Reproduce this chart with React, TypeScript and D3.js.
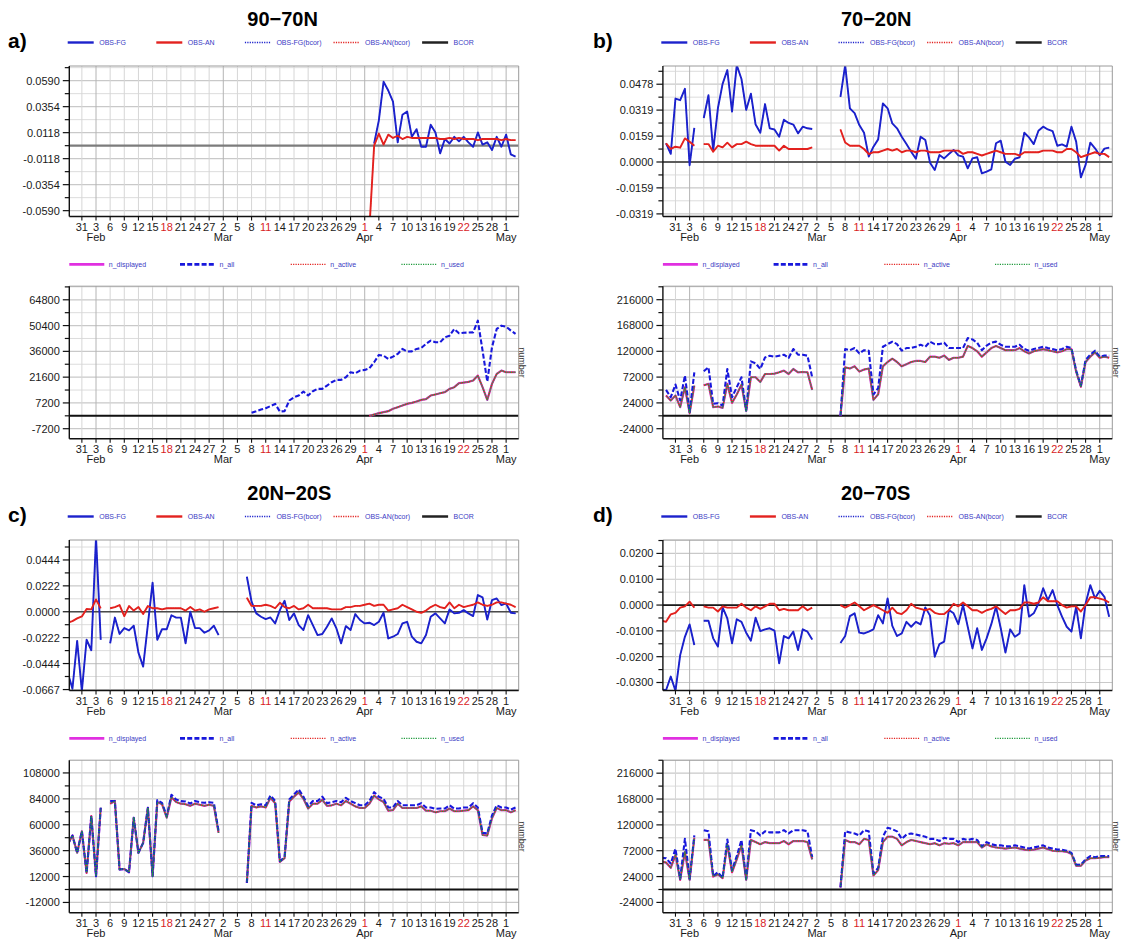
import React from 'react';
import * as d3 from 'd3';

type Val = number | null;
const _ = null;

// ---------- time axis ----------
const X_RANGE = ['2021-01-28T08:00:00Z', '2021-05-03T16:00:00Z'];
const TICK_FIRST = '2021-01-31';
const TICK_LAST = '2021-05-01';
const TICK_STEP_DAYS = 3;
const RED_TICK_DAYS = ['2021-02-18', '2021-03-11', '2021-04-01', '2021-04-22'];

// ---------- 90-70N ----------
const A_TOP_DOMAIN = [-0.0643, 0.0723];
const A_TOP_TICKS = [0.059, 0.0354, 0.0118, -0.0118, -0.0354, -0.059];
const A_BOT_DOMAIN = [-12780, 72390];
const A_BOT_TICKS = [64800, 50400, 36000, 21600, 7200, -7200];

const A_FG_START = '2021-04-03';
const A_FG: Val[] = [
  0.002, 0.023, 0.058, 0.05, 0.04, 0.003, 0.028, 0.031, 0.008, 0.015,
  -0.001, -0.001, 0.019, 0.012, -0.007, 0.006, 0.002, 0.008, 0.004, 0.008,
  0.003, -0.001, 0.012, 0.001, 0.003, -0.004, 0.008, -0.001,
  0.01, -0.008, -0.01,
];
const A_AN_START = '2021-04-02';
const A_AN: Val[] = [
  -0.075, 0.0, 0.011, 0.001, 0.01, 0.007, 0.009, 0.006, 0.008, 0.007,
  0.007, 0.007, 0.007, 0.007, 0.007, 0.006, 0.006, 0.007, 0.006, 0.007,
  0.006, 0.006, 0.006, 0.005, 0.006, 0.006, 0.006, 0.006, 0.005,
  0.006, 0.005, 0.005,
];
const A_ALL_START = '2021-03-08';
const A_ALL: Val[] = [
  1670, 2600, 3530, 4270, 5420, 6690, 2420, 2600, 8550, 10400, 11330, 13560,
  11330, 13750, 15050, 15050, 16900, 18770, 20070, 20070, 21550, 24340, 23780, 25270,
  25640, 26570, 29920, 34000, 33600, 31770, 33070, 34560, 37350, 35860,
  36000, 37350, 37900, 40130, 41990, 41060, 41060, 43850, 44780, 48500,
  46080, 46400, 46500, 46600, 53140, 36420, 19140, 38280, 48500, 50350,
  49800, 47570, 45710,
];
const A_DISP_START = '2021-04-02';
const A_DISP: Val[] = [
  0, 740, 1490, 2040, 2600, 3900, 4830, 5760, 6690, 7250,
  7990, 8920, 9290, 11330, 11890, 12630, 13190, 15050, 15980, 18210,
  18580, 18950, 19700, 22480, 15980, 8920, 17840, 23410, 25270,
  24340, 24340, 24340,
];

// ---------- 70-20N ----------
const B_TOP_DOMAIN = [-0.0335, 0.059];
const B_TOP_TICKS = [0.0478, 0.0319, 0.0159, 0.0, -0.0159, -0.0319];
const B_BOT_DOMAIN = [-42600, 241100];
const B_BOT_TICKS = [216000, 168000, 120000, 72000, 24000, -24000];

const B_START = '2021-01-29';
const B_FG: Val[] = [
  0.0115, 0.005, 0.039, 0.038, 0.045, -0.002, 0.021,
  _,
  0.027, 0.041, 0.007, 0.033, 0.048, 0.0565, 0.031, 0.0595, 0.051, 0.032, 0.042, 0.023,
  0.018, 0.0356, 0.0207, 0.02, 0.0155, 0.026, 0.024, 0.023, 0.0176, 0.0217, 0.0207, 0.0203,
  _, _, _, _, _,
  0.04, 0.0595, 0.033, 0.03, 0.0227, 0.018, 0.0033, 0.0094, 0.0139, 0.036, 0.033, 0.0237,
  0.0207, 0.0155, 0.011, 0.0063, 0.002, 0.0155, 0.0135, -0.0004, -0.0049, 0.0043, 0.0022,
  0.0049, 0.0074,
  0.0041, 0.0033, -0.0039, 0.0022, 0.0029, -0.007, -0.0059, -0.0045, 0.0115, 0.0131,
  0.0002, -0.0018, 0.002, 0.0029, 0.018, 0.0151, 0.011, 0.0192, 0.0217, 0.02,
  0.019, 0.01, 0.0108, 0.0094, 0.0217, 0.0125, -0.0094, -0.0018, 0.0119, 0.0084,
  0.0041, 0.0082, 0.0088,
];
const B_AN: Val[] = [
  0.0115, 0.008, 0.0094, 0.0088, 0.0145, 0.0125, 0.01,
  _,
  0.011, 0.011, 0.0063, 0.01, 0.009, 0.0119, 0.009, 0.011, 0.011, 0.0125, 0.011, 0.01,
  0.01, 0.01, 0.01, 0.01, 0.007, 0.01, 0.008, 0.008, 0.008, 0.008, 0.008, 0.009,
  _, _, _, _, _,
  0.02, 0.012, 0.01, 0.01, 0.01, 0.008, 0.0049, 0.006, 0.006, 0.007, 0.008, 0.007,
  0.008, 0.006, 0.007, 0.007, 0.006, 0.007, 0.007, 0.006, 0.006, 0.006, 0.007,
  0.007, 0.007,
  0.007, 0.005, 0.006, 0.006, 0.005, 0.004, 0.005, 0.006, 0.007, 0.006,
  0.005, 0.005, 0.005, 0.004, 0.006, 0.006, 0.006, 0.006, 0.007, 0.007,
  0.007, 0.006, 0.006, 0.008, 0.008, 0.006, 0.003, 0.004, 0.005, 0.006,
  0.005, 0.005, 0.003,
];
const B_ALL: Val[] = [
  48200, 34600, 58100, 28400, 74800, 6800, 80900,
  _,
  82800, 90200, 22240, 23500, 19150, 87100, 34600, 53100, 71670, 9900, 101300, 97600,
  87100, 108700, 111800, 110000, 111800, 113700, 107500, 124200, 113700, 113700, 111800, 71700,
  _, _, _, _, _,
  0, 124200, 122000, 126000, 116100, 122000, 121100, 39540, 51300, 128500, 133400, 137800,
  133400, 121100, 126000, 126000, 128500, 132200, 128500, 137800, 133400, 133400, 135900,
  126000, 126000,
  126000, 126000, 144600, 142000, 136000, 122000, 130400, 136000, 138000, 132200,
  128500, 128500, 128500, 132200, 124200, 121100, 124200, 126000, 128500, 126000,
  124200, 122000, 124200, 128500, 126000, 84000, 56200, 103800, 113700, 121100,
  110000, 112000, 112000,
];
const B_DISP: Val[] = [
  37700, 28400, 37700, 16100, 53100, 4900, 56200,
  _,
  56800, 59300, 16060, 17300, 14800, 59300, 24100, 39540, 58000, 9270, 71700, 71700,
  63000, 77800, 77800, 78400, 80900, 84000, 77800, 87100, 80900, 81500, 80900, 48200,
  _, _, _, _, _,
  0, 90200, 88000, 92000, 82200, 86000, 88000, 29650, 40000, 92000, 100100, 106300,
  100100, 92000, 96000, 100100, 102000, 102000, 100100, 110000, 110000, 108000, 112000,
  104000, 108000,
  108000, 110000, 130000, 126000, 120000, 110000, 118000, 126000, 130000, 126000,
  122000, 122000, 122000, 126000, 120000, 116000, 120000, 122000, 124000, 122000,
  120000, 118000, 120000, 124000, 124000, 82000, 54000, 100000, 110000, 118000,
  108000, 110000, 108000,
];

// ---------- 20N-20S ----------
const C_TOP_DOMAIN = [-0.0675, 0.0615];
const C_TOP_TICKS = [0.0444, 0.0222, 0.0, -0.0222, -0.0444, -0.0667];
const C_BOT_DOMAIN = [-21500, 119800];
const C_BOT_TICKS = [108000, 84000, 60000, 36000, 12000, -12000];

const CD_START = '2021-01-28';
const C_FG: Val[] = [
  -0.052, -0.066, -0.025, -0.068, -0.024, -0.033, 0.064, -0.024,
  _,
  -0.027, -0.005, -0.019, -0.014, -0.016, -0.012, -0.035, -0.047, -0.011, 0.025, -0.024, -0.015,
  -0.015, -0.003, -0.005, -0.005, -0.027, 0.0, -0.014, -0.014, -0.018, -0.016, -0.012, -0.02,
  _, _, _, _, _,
  0.03, 0.0086, -0.0014, -0.0043, -0.0063, -0.0049, -0.01, 0.0014, 0.0094, -0.0071, -0.0014,
  -0.0114, -0.0157, -0.0029, -0.0114, -0.02, -0.0191, -0.0129, -0.0057, -0.0143, -0.0271,
  -0.0123, -0.0157, -0.002, -0.0071,
  -0.01, -0.0094, -0.0114, -0.0086, -0.0009, -0.0229, -0.0214, -0.0191, -0.01, -0.0086,
  -0.0214, -0.0257, -0.0271, -0.02, -0.0043, -0.0014, -0.0057, -0.01, 0.002, -0.0014,
  -0.0009, 0.0014, -0.0014, -0.0037, 0.0143, 0.0123, -0.0066, 0.01, 0.0114, 0.0057,
  0.0071, -0.0009, -0.0014,
];
const C_AN: Val[] = [
  -0.0094, -0.008, -0.0057, -0.004, 0.0023, 0.002, 0.0106, 0.0029,
  _,
  0.003, 0.004, 0.0057, -0.0037, 0.0049, 0.001, 0.004, -0.002, 0.0049, 0.003, 0.003, 0.002,
  0.003, 0.003, 0.003, 0.003, 0.001, 0.004, 0.001, 0.002, 0.0, 0.002, 0.003, 0.004,
  _, _, _, _, _,
  0.012, 0.005, 0.005, 0.005, 0.006, 0.005, 0.003, 0.0077, 0.004, 0.003, 0.005,
  0.002, 0.003, 0.006, 0.003, 0.003, 0.003, 0.003, 0.002, 0.002, 0.002,
  0.004, 0.004, 0.005, 0.005,
  0.006, 0.007, 0.005, 0.006, 0.006, 0.001, 0.002, 0.003, 0.006, 0.004,
  0.002, 0.0, -0.001, 0.001, 0.004, 0.006, 0.004, 0.003, 0.008, 0.003,
  0.006, 0.004, 0.005, 0.006, 0.008, 0.006, 0.005, 0.006, 0.008, 0.008,
  0.007, 0.006, 0.004,
];
const C_ALL: Val[] = [
  41700, 50000, 34000, 54000, 15400, 68000, 12400, 75700,
  _,
  81900, 82000, 18500, 19000, 16000, 66400, 34000, 43200, 75700, 12400, 82800, 80300,
  68000, 87700, 83400, 81900, 81600, 79700, 82000, 80800, 80300, 80800, 80300, 54000,
  _, _, _, _, _,
  6180, 80300, 78000, 79000, 78000, 87100, 82000, 26260, 29960, 83400, 88000,
  92700, 86000, 77200, 82000, 82000, 86000, 80000, 80800, 82000, 80800,
  84900, 82000, 80000, 78000,
  78000, 82000, 90200, 86000, 84000, 76000, 76000, 82000, 78000, 78000,
  78000, 78000, 80000, 76000, 76000, 74750, 75000, 75000, 78000, 75000,
  75000, 76000, 76000, 80000, 76000, 52500, 52000, 68600, 78000, 76000,
  76000, 74000, 76000,
];
const C_DISP: Val[] = [
  41700, 50000, 34000, 54000, 15400, 68000, 12400, 75700,
  _,
  79500, 82000, 18500, 19000, 16000, 66400, 34000, 43200, 75700, 12400, 81000, 79000,
  66500, 85500, 81000, 79500, 79000, 77500, 79500, 78500, 77500, 78500, 77500, 52500,
  _, _, _, _, _,
  6180, 77500, 76000, 77000, 76000, 85000, 80000, 25500, 29000, 81500, 86000,
  90000, 84000, 75000, 79500, 79500, 83000, 77500, 78000, 79500, 78000,
  82000, 79500, 77000, 75500,
  75500, 79500, 87000, 83500, 81000, 73000, 73500, 79500, 75500, 75500,
  75500, 75500, 77000, 73000, 73000, 71500, 72500, 72500, 75000, 72500,
  72500, 73000, 73500, 77000, 73500, 50500, 50000, 66000, 75500, 73500,
  73500, 71500, 73500,
];

// ---------- 20-70S ----------
const D_TOP_DOMAIN = [-0.0331, 0.0252];
const D_TOP_TICKS = [0.02, 0.01, 0.0, -0.01, -0.02, -0.03];
const D_BOT_DOMAIN = [-43100, 240100];
const D_BOT_TICKS = [216000, 168000, 120000, 72000, 24000, -24000];

const D_FG: Val[] = [
  -0.0326, -0.033, -0.0277, -0.0332, -0.0194, -0.0123, -0.0075, -0.0155,
  _,
  -0.0061, -0.0061, -0.0129, -0.0161, -0.0009, -0.0052, -0.0148, -0.0055, -0.0065, -0.0107,
  -0.0138, -0.0049, -0.0101, -0.0094, -0.009, -0.0099, -0.0226, -0.012, -0.0129, -0.0103,
  -0.0174, -0.0094, -0.0103, -0.0133,
  _, _, _, _, _,
  -0.0147, -0.012, -0.0043, -0.0032, -0.0107, -0.011, -0.0103, -0.0094, -0.0039, -0.0071,
  0.0026, -0.0081, -0.012, -0.011, -0.0065, -0.0084, -0.0065, -0.0075, -0.0009, -0.0041,
  -0.02, -0.0151, -0.0142, -0.0019, -0.0032,
  -0.0074, 0.0, -0.0084, -0.0168, -0.009, -0.0174, -0.0129, -0.0074, -0.0006, -0.009,
  -0.0184, -0.0094, -0.0123, -0.011, 0.0077, -0.0045, -0.0032, 0.0006, 0.0065, 0.0019,
  0.0058, 0.0, -0.0045, -0.0084, -0.0103, -0.0006, -0.0129, 0.0006, 0.0077, 0.0026,
  0.0055, 0.0032, -0.0045,
];
const D_AN: Val[] = [
  -0.006, -0.0065, -0.0036, -0.003, -0.001, -0.0005, 0.0013, -0.001,
  _,
  -0.0005, -0.001, -0.001, -0.0025, -0.0005, -0.001, -0.001, -0.001, 0.0005, -0.001,
  -0.002, -0.0005, -0.0015, -0.0005, 0.0005, 0.0005, -0.002, -0.0015, -0.002, -0.002,
  -0.002, -0.0005, -0.002, -0.001,
  _, _, _, _, _,
  0.0, -0.001, 0.0, 0.001, -0.0005, -0.002, -0.001, 0.0, -0.001, -0.002,
  -0.003, -0.001, -0.003, -0.0035, -0.002, 0.0005, -0.001, -0.0015, -0.002, -0.0015,
  -0.003, -0.0035, -0.0035, -0.002, 0.0005,
  -0.0005, 0.001, -0.0005, -0.002, -0.002, -0.003, -0.002, -0.0015, -0.0005, -0.002,
  -0.0035, -0.002, -0.002, -0.0015, 0.001, 0.001, 0.0005, 0.001, 0.003, 0.0015,
  0.0015, 0.0015, 0.0, -0.001, -0.0005, -0.0005, -0.0025, 0.0, 0.003, 0.003,
  0.0025, 0.002, 0.001,
];
const D_ALL: Val[] = [
  58800, 58000, 48300, 75600, 19800, 94100, 19800, 100300,
  _,
  110200, 108000, 24800, 32200, 21700, 92900, 35900, 61900, 92000, 19800, 110200, 108000,
  100300, 108000, 106000, 106000, 106000, 110200, 104000, 110000, 110000, 110000, 108000, 60000,
  _, _, _, _, _,
  4000, 108000, 106000, 104000, 100300, 110200, 108000, 30000, 40000, 98000, 114600,
  112000, 108000, 94000, 102000, 104000, 102000, 100000, 98000, 94000, 94000,
  90000, 96000, 94000, 94000,
  88000, 94000, 92000, 94000, 92000, 80000, 88000, 84000, 82000, 82000,
  80000, 80000, 82000, 80000, 78000, 76000, 78000, 80000, 82000, 78000,
  76000, 74000, 74000, 72000, 68000, 46000, 46000, 56000, 62000, 60000,
  62000, 62000, 62000,
];
const D_DISP: Val[] = [
  52000, 50000, 40260, 64000, 18000, 70000, 18000, 96000,
  _,
  92000, 92000, 24000, 28000, 21000, 84000, 32000, 56000, 82000, 18000, 92000, 88000,
  84000, 88000, 86000, 86000, 86000, 90000, 84000, 90000, 90000, 90000, 88000, 56000,
  _, _, _, _, _,
  4000, 92000, 88000, 88000, 84000, 94000, 92000, 26000, 36000, 88000, 98000,
  98000, 94000, 82000, 88000, 92000, 90000, 88000, 86000, 84000, 86000,
  82000, 86000, 85000, 86000,
  82000, 88000, 88000, 88000, 88000, 78000, 84000, 80000, 78000, 77000,
  76000, 77000, 78000, 76000, 74000, 73000, 74000, 76000, 78000, 75000,
  72000, 71000, 71000, 70000, 66000, 44000, 44000, 54000, 58000, 58000,
  59000, 60000, 60000,
];

// ---------- legends ----------
const TOP_LEGEND = ['OBS-FG', 'OBS-AN', 'OBS-FG(bcor)', 'OBS-AN(bcor)', 'BCOR'];
const BOTTOM_LEGEND = ['n_displayed', 'n_all', 'n_active', 'n_used'];

// ---------- styles ----------
const BLUE = '#1c22cc';
const RED = '#e3221f';
const MAGENTA = '#e030e0';
const NALL = '#1818dc';
const GREEN = '#1f9a3c';
const LEG_TEXT = '#3b3bc4';
const TICK_FONT = '"Liberation Sans Narrow", "Arial Narrow", "Liberation Sans", Arial, sans-serif';
const BOLD_FONT = '"Liberation Sans", Arial, Helvetica, sans-serif';

type LineStyle = { stroke: string; width: number; dash?: string; offset?: number };
const STYLE: Record<string, LineStyle> = {
  'OBS-FG': { stroke: BLUE, width: 1.9 },
  'OBS-AN': { stroke: RED, width: 1.9 },
  'OBS-FG(bcor)': { stroke: BLUE, width: 0.9, dash: '1.2 1.2' },
  'OBS-AN(bcor)': { stroke: RED, width: 0.9, dash: '1.2 1.2' },
  BCOR: { stroke: '#222', width: 2 },
  n_displayed: { stroke: MAGENTA, width: 2.2 },
  n_all: { stroke: NALL, width: 2.1, dash: '5 2.2' },
  n_active: { stroke: RED, width: 1.5, dash: '1.2 1.2' },
  n_used: { stroke: GREEN, width: 1.5, dash: '1.2 1.2', offset: 1.2 },
};

const parseDay = d3.utcParse('%Y-%m-%d');
type Pt = { d: Date; v: Val };
const toPoints = (start: string, vals: Val[]): Pt[] => {
  const s = parseDay(start)!;
  return vals.map((v, i) => ({ d: d3.utcDay.offset(s, i), v }));
};

const X_DOMAIN = X_RANGE.map((s) => new Date(s));
const X_TICKS = d3.utcDay.range(
  parseDay(TICK_FIRST)!,
  d3.utcDay.offset(parseDay(TICK_LAST)!, 1),
  TICK_STEP_DAYS,
);
const RED_SET = new Set(RED_TICK_DAYS);
const dayKey = d3.utcFormat('%Y-%m-%d');
const dayLabel = d3.utcFormat('%-d');
const monthLabel = d3.utcFormat('%b');

// layout
const COL_X = [69.3, 662.9];
const LETTER_X = [8, 593];
const PLOT_W = 449.4;
const ROW_Y = [66, 540];
const TOP_H = 150.5;
const BOT_DY = 220.2;
const BOT_H = 152.5;

type SeriesDef = { name: string; pts: Pt[] };

type PlotProps = {
  id: string;
  left: number;
  top: number;
  height: number;
  domain: number[];
  majors: number[];
  decimals: number;
  series: SeriesDef[];
  zeroColor: string;
  zeroWidth: number;
  numberLabel?: boolean;
};

function Plot({ id, left, top, height, domain, majors, decimals, series, zeroColor, zeroWidth, numberLabel }: PlotProps) {
  const width = PLOT_W;
  const right = left + width;
  const bottom = top + height;
  const x = d3.scaleUtc().domain(X_DOMAIN).range([left, right]);
  const y = d3.scaleLinear().domain(domain).range([bottom, top]);
  const step = majors[0] - majors[1];
  const minors = [majors[0] + step / 2, ...majors.map((m) => m - step / 2)].filter(
    (v) => v >= domain[0] && v <= domain[1],
  );
  const line = d3
    .line<Pt>()
    .defined((p) => p.v != null)
    .x((p) => x(p.d))
    .y((p) => y(p.v as number));
  const monthFirst = X_TICKS.filter((t, i) => i > 0 && t.getUTCMonth() !== X_TICKS[i - 1].getUTCMonth());
  const monthSet = new Set(monthFirst.map(dayKey));

  return (
    <g>
      <defs>
        <clipPath id={id}>
          <rect x={left} y={top} width={width} height={height} />
        </clipPath>
      </defs>
      <rect x={left} y={top} width={width} height={height} fill="#fff" />
      {/* horizontal grid */}
      {minors.map((v, i) => (
        <line key={'hm' + i} x1={left} x2={right} y1={y(v)} y2={y(v)} stroke="#dcdcdc" strokeWidth={1} />
      ))}
      {majors.map((v, i) => (
        <line key={'hM' + i} x1={left} x2={right} y1={y(v)} y2={y(v)} stroke="#c9c9c9" strokeWidth={1.2} />
      ))}
      {/* vertical grid */}
      {X_TICKS.map((t, i) => (
        <line
          key={'v' + i}
          x1={x(t)}
          x2={x(t)}
          y1={top}
          y2={bottom}
          stroke={monthSet.has(dayKey(t)) ? '#b4b4b4' : '#d6d6d6'}
          strokeWidth={1}
        />
      ))}
      <g clipPath={`url(#${id})`}>
        <line x1={left} x2={right} y1={y(0)} y2={y(0)} stroke={zeroColor} strokeWidth={zeroWidth} />
        {series.map((s, i) => {
          const st = STYLE[s.name];
          return (
            <path
              key={'s' + i}
              d={line(s.pts) || ''}
              fill="none"
              stroke={st.stroke}
              strokeWidth={st.width}
              strokeDasharray={st.dash}
              strokeDashoffset={st.offset}
              strokeLinejoin="round"
            />
          );
        })}
      </g>
      {/* frame */}
      <line x1={left} x2={right} y1={top} y2={top} stroke="#9a9a9a" strokeWidth={1} />
      <line x1={right} x2={right} y1={top} y2={bottom} stroke="#9a9a9a" strokeWidth={1} />
      <line x1={left} x2={left} y1={top} y2={bottom} stroke="#111" strokeWidth={1.4} />
      <line x1={left} x2={right} y1={bottom} y2={bottom} stroke="#111" strokeWidth={1.4} />
      {/* y ticks */}
      {minors.map((v, i) => (
        <line key={'tm' + i} x1={left - 4.5} x2={left} y1={y(v)} y2={y(v)} stroke="#111" strokeWidth={1.2} />
      ))}
      {majors.map((v, i) => (
        <g key={'tM' + i}>
          <line x1={left - 6.5} x2={left} y1={y(v)} y2={y(v)} stroke="#111" strokeWidth={1.2} />
          <text
            x={left - 9.5}
            y={y(v)}
            dy="0.36em"
            textAnchor="end"
            fontFamily={TICK_FONT}
            fontSize={11}
            fill="#1a1a1a"
          >
            {decimals > 0 ? v.toFixed(decimals) : String(v)}
          </text>
        </g>
      ))}
      {/* x ticks */}
      {X_TICKS.map((t, i) => (
        <g key={'x' + i}>
          <line x1={x(t)} x2={x(t)} y1={bottom} y2={bottom + 4} stroke="#111" strokeWidth={1.1} />
          <text
            x={x(t)}
            y={bottom + 14}
            textAnchor="middle"
            fontFamily={TICK_FONT}
            fontSize={11}
            fill={RED_SET.has(dayKey(t)) ? '#d8231f' : '#1a1a1a'}
          >
            {dayLabel(t)}
          </text>
        </g>
      ))}
      {monthFirst.map((t, i) => (
        <text
          key={'m' + i}
          x={x(t)}
          y={bottom + 24}
          textAnchor="middle"
          fontFamily={TICK_FONT}
          fontSize={11}
          fill="#1a1a1a"
        >
          {monthLabel(t)}
        </text>
      ))}
      {numberLabel && (
        <text
          transform={`translate(${right + 0.5},${(top + bottom) / 2}) rotate(90)`}
          textAnchor="middle"
          fontFamily={TICK_FONT}
          fontSize={9}
          fill="#333"
        >
          number
        </text>
      )}
    </g>
  );
}

function Legend({ left, y, names, spacing, lineLen, gap }: { left: number; y: number; names: string[]; spacing: number; lineLen: number; gap: number }) {
  return (
    <g>
      {names.map((n, i) => {
        const st = STYLE[n];
        const x0 = left + i * spacing;
        const legendWidth = st.dash && st.width < 1.6 ? 1.4 : st.width + 0.5;
        return (
          <g key={n}>
            <line
              x1={x0}
              x2={x0 + lineLen}
              y1={y}
              y2={y}
              stroke={st.stroke}
              strokeWidth={legendWidth}
              strokeDasharray={st.dash}
            />
            <text x={x0 + lineLen + gap} y={y + 2.4} fontFamily={BOLD_FONT} fontSize={7} fill={LEG_TEXT}>
              {n}
            </text>
          </g>
        );
      })}
    </g>
  );
}

type PanelDef = {
  letter: string;
  title: string;
  col: number;
  row: number;
  topDomain: number[];
  topTicks: number[];
  botDomain: number[];
  botTicks: number[];
  fg: Pt[];
  an: Pt[];
  all: Pt[];
  disp: Pt[];
  zeroColor: string;
  zeroWidth: number;
};

const PANELS: PanelDef[] = [
  {
    letter: 'a)', title: '90\u221270N', col: 0, row: 0,
    topDomain: A_TOP_DOMAIN, topTicks: A_TOP_TICKS, botDomain: A_BOT_DOMAIN, botTicks: A_BOT_TICKS,
    fg: toPoints(A_FG_START, A_FG), an: toPoints(A_AN_START, A_AN),
    all: toPoints(A_ALL_START, A_ALL), disp: toPoints(A_DISP_START, A_DISP),
    zeroColor: '#7c7c7c', zeroWidth: 2.2,
  },
  {
    letter: 'b)', title: '70\u221220N', col: 1, row: 0,
    topDomain: B_TOP_DOMAIN, topTicks: B_TOP_TICKS, botDomain: B_BOT_DOMAIN, botTicks: B_BOT_TICKS,
    fg: toPoints(B_START, B_FG), an: toPoints(B_START, B_AN),
    all: toPoints(B_START, B_ALL), disp: toPoints(B_START, B_DISP),
    zeroColor: '#5c5c5c', zeroWidth: 2,
  },
  {
    letter: 'c)', title: '20N\u221220S', col: 0, row: 1,
    topDomain: C_TOP_DOMAIN, topTicks: C_TOP_TICKS, botDomain: C_BOT_DOMAIN, botTicks: C_BOT_TICKS,
    fg: toPoints(CD_START, C_FG), an: toPoints(CD_START, C_AN),
    all: toPoints(CD_START, C_ALL), disp: toPoints(CD_START, C_DISP),
    zeroColor: '#4a4a4a', zeroWidth: 1.6,
  },
  {
    letter: 'd)', title: '20\u221270S', col: 1, row: 1,
    topDomain: D_TOP_DOMAIN, topTicks: D_TOP_TICKS, botDomain: D_BOT_DOMAIN, botTicks: D_BOT_TICKS,
    fg: toPoints(CD_START, D_FG), an: toPoints(CD_START, D_AN),
    all: toPoints(CD_START, D_ALL), disp: toPoints(CD_START, D_DISP),
    zeroColor: '#1a1a1a', zeroWidth: 1.8,
  },
];

function Panel({ p }: { p: PanelDef }) {
  const left = COL_X[p.col];
  const top = ROW_Y[p.row];
  const botTop = top + BOT_DY;
  return (
    <g>
      <text x={left + 178} y={top - 40.5} fontFamily={BOLD_FONT} fontWeight="bold" fontSize={20} fill="#000">
        {p.title}
      </text>
      <text x={LETTER_X[p.col]} y={top - 18} fontFamily={BOLD_FONT} fontWeight="bold" fontSize={21} fill="#000">
        {p.letter}
      </text>
      <Legend left={left - 1.6} y={top - 23.5} names={TOP_LEGEND} spacing={88.6} lineLen={26} gap={5.5} />
      <Plot
        id={`clip-top-${p.col}-${p.row}`}
        left={left}
        top={top}
        height={TOP_H}
        domain={p.topDomain}
        majors={p.topTicks}
        decimals={4}
        zeroColor={p.zeroColor}
        zeroWidth={p.zeroWidth}
        series={[
          { name: 'OBS-FG', pts: p.fg },
          { name: 'OBS-FG(bcor)', pts: p.fg },
          { name: 'OBS-AN', pts: p.an },
          { name: 'OBS-AN(bcor)', pts: p.an },
        ]}
      />
      <Legend left={left} y={botTop - 21.8} names={BOTTOM_LEGEND} spacing={110.7} lineLen={35} gap={4.5} />
      <Plot
        id={`clip-bot-${p.col}-${p.row}`}
        left={left}
        top={botTop}
        height={BOT_H}
        domain={p.botDomain}
        majors={p.botTicks}
        decimals={0}
        zeroColor="#111"
        zeroWidth={2}
        numberLabel
        series={[
          { name: 'n_displayed', pts: p.disp },
          { name: 'n_active', pts: p.disp },
          { name: 'n_all', pts: p.all },
          { name: 'n_used', pts: p.disp },
        ]}
      />
    </g>
  );
}

export default function App() {
  return (
    <svg
      width={1121}
      height={941}
      viewBox="0 0 1121 941"
      style={{ position: 'absolute', left: 0, top: 0, background: '#fff' }}
    >
      <rect width={1121} height={941} fill="#fff" />
      {PANELS.map((p) => (
        <Panel key={p.letter} p={p} />
      ))}
    </svg>
  );
}
